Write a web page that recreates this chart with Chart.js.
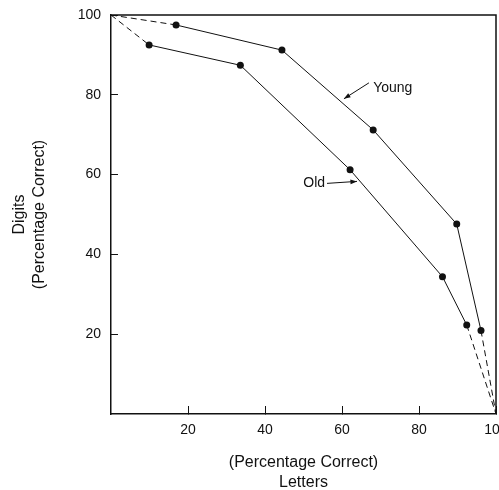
<!DOCTYPE html>
<html>
<head>
<meta charset="utf-8">
<script src="https://cdn.jsdelivr.net/npm/chart.js@4/dist/chart.umd.min.js"></script>
<style>
  html, body { margin: 0; padding: 0; background: #fff; }
  #wrap { width: 499px; height: 490px; }
</style>
</head>
<body>
<div id="wrap"><canvas id="myChart"></canvas></div>
<script>
// values
var youngLetters = [0, 16.9, 44.4, 68.1, 89.8, 96.1, 100];
var youngDigits  = [100, 97.5, 91.2, 71.2, 47.6, 20.9, 0];
var oldLetters   = [0, 9.9, 33.6, 62.1, 86.1, 92.4, 100];
var oldDigits    = [100, 92.5, 87.4, 61.2, 34.4, 22.3, 0];
var xTicks = [20, 40, 60, 80, 100];
var yTicks = [20, 40, 60, 80, 100];

var ink = '#111';
var fontFam = "'Liberation Sans', Arial, sans-serif";

function toPoints(xs, ys) {
    var pts = [];
    for (var i = 0; i < xs.length; i++) pts.push({ x: xs[i], y: ys[i] });
    return pts;
}

function lineSet(label, xs, ys) {
    var last = xs.length - 1;
    return {
        label: label,
        data: toPoints(xs, ys),
        borderColor: ink,
        backgroundColor: ink,
        borderWidth: 1,
        pointRadius: function (c) { return (c.dataIndex === 0 || c.dataIndex === last) ? 0 : 3.5; },
        pointBorderWidth: 0,
        tension: 0,
        segment: {
            borderDash: function (c) {
                return (c.p0DataIndex === 0 || c.p1DataIndex === last) ? [6, 4] : undefined;
            }
        }
    };
}

// labels with arrows, positions in data units
var notes = [
    { text: 'Young', tx: 68.1, ty: 81.7, align: 'left', from: [67.0, 83.0], to: [60.5, 79.0] },
    { text: 'Old', tx: 55.6, ty: 57.9, align: 'right', from: [56.1, 57.8], to: [63.9, 58.3] }
];

var extras = {
    id: 'extras',
    afterDatasetsDraw: function (chart) {
        var c = chart.ctx, a = chart.chartArea;
        var xs = chart.scales.x, ys = chart.scales.y;
        c.save();
        // top and right frame lines
        c.strokeStyle = ink;
        c.lineWidth = 1.5;
        c.beginPath();
        c.moveTo(a.left, a.top);
        c.lineTo(a.right, a.top);
        c.lineTo(a.right, a.bottom);
        c.stroke();

        c.font = '14px ' + fontFam;
        c.fillStyle = ink;
        c.textBaseline = 'middle';
        notes.forEach(function (n) {
            c.textAlign = n.align;
            c.fillText(n.text, xs.getPixelForValue(n.tx), ys.getPixelForValue(n.ty));
            var x1 = xs.getPixelForValue(n.from[0]), y1 = ys.getPixelForValue(n.from[1]);
            var x2 = xs.getPixelForValue(n.to[0]), y2 = ys.getPixelForValue(n.to[1]);
            c.lineWidth = 1;
            c.beginPath();
            c.moveTo(x1, y1);
            c.lineTo(x2, y2);
            c.stroke();
            var ang = Math.atan2(y2 - y1, x2 - x1);
            c.beginPath();
            c.moveTo(x2, y2);
            c.lineTo(x2 - 7 * Math.cos(ang - 0.35), y2 - 7 * Math.sin(ang - 0.35));
            c.lineTo(x2 - 7 * Math.cos(ang + 0.35), y2 - 7 * Math.sin(ang + 0.35));
            c.closePath();
            c.fill();
        });
        c.restore();
    }
};

const ctx = document.getElementById('myChart');

new Chart(ctx, {
    type: 'line',
    data: {
        datasets: [
            lineSet('Young', youngLetters, youngDigits),
            lineSet('Old', oldLetters, oldDigits)
        ]
    },
    options: {
        responsive: true,
        maintainAspectRatio: false,
        animation: false,
        layout: { padding: { top: 15, right: 3, left: 0, bottom: 0 } },
        plugins: {
            legend: { display: false },
            tooltip: { enabled: false }
        },
        scales: {
            x: {
                type: 'linear',
                min: 0,
                max: 100,
                afterBuildTicks: function (s) { s.ticks = xTicks.map(function (v) { return { value: v }; }); },
                afterFit: function (s) { s.height = 76; s.paddingLeft = 0; s.paddingRight = 0; },
                grid: { drawOnChartArea: false, tickLength: -8, color: ink, lineWidth: 1 },
                border: { color: ink, width: 1.5 },
                ticks: { color: ink, padding: 16, maxRotation: 0, font: { family: fontFam, size: 14 } },
                title: {
                    display: true,
                    text: ['(Percentage Correct)', 'Letters'],
                    color: ink,
                    font: { family: fontFam, size: 16, lineHeight: 1.25 },
                    padding: { top: 0, bottom: -3 }
                }
            },
            y: {
                type: 'linear',
                min: 0,
                max: 100,
                afterBuildTicks: function (s) { s.ticks = yTicks.map(function (v) { return { value: v }; }); },
                afterFit: function (s) { s.width = 111; s.paddingTop = 0; s.paddingBottom = 0; },
                grid: { drawOnChartArea: false, tickLength: -7, color: ink, lineWidth: 1 },
                border: { color: ink, width: 1.5 },
                ticks: { color: ink, padding: 17, font: { family: fontFam, size: 14 } },
                title: {
                    display: true,
                    text: ['Digits', '(Percentage Correct)'],
                    color: ink,
                    font: { family: fontFam, size: 16, lineHeight: 1.25 },
                    padding: { top: 10, bottom: 0 }
                }
            }
        }
    },
    plugins: [extras]
});
</script>
</body>
</html>
